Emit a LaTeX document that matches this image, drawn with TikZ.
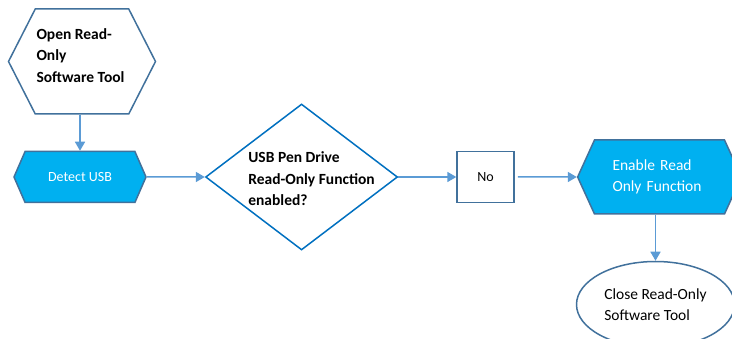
\documentclass[tikz,border=0pt]{standalone}
\usepackage{fontspec}
\setmainfont{Carlito}
\usetikzlibrary{shapes,arrows.meta,positioning}
\definecolor{cyanfill}{HTML}{00B0F0}
\definecolor{edgeblue}{HTML}{41719C}
\definecolor{decisionblue}{HTML}{0070C0}
\definecolor{arrowblue}{HTML}{5B9BD5}

\begin{document}
\begin{tikzpicture}[font=\fontsize{14}{21}\selectfont]
    \tikzstyle{process} = [signal, signal to=west and east, draw=edgeblue, line width=1.5pt, inner sep=2pt]
    \tikzstyle{decision} = [diamond, draw=decisionblue, line width=1.5pt, fill=white, inner xsep=-8pt, inner ysep=-14pt]
    \tikzstyle{box} = [rectangle, draw=edgeblue, line width=1.5pt, fill=white]
    \tikzstyle{flow} = [draw=arrowblue, line width=1.5pt, -{Triangle[length=9pt,width=10pt]}]
    \tikzstyle{bigtext} = [font=\fontsize{15.5}{21}\selectfont]
    \tikzstyle{boldtext} = [font=\fontsize{15.5}{21.5}\selectfont\bfseries]

    \useasboundingbox (0,0) rectangle (732pt,-339pt);

    \node[process, fill=cyanfill, text=white, minimum width=132pt, minimum height=51pt,
          signal pointer angle=133] (detect) at (80pt,-177pt) {Detect USB};

    \node[process, fill=white, minimum width=147pt, minimum height=105pt, signal pointer angle=126,
          inner sep=0pt, above=36pt of detect, xshift=2pt,
          label={[boldtext, align=left, xshift=-1.5pt, yshift=6pt]center:Open Read-\\Only\\Software Tool}] (open) {};

    \node[decision, minimum width=192pt, minimum height=146pt, right=58pt of detect,
          label={[boldtext, align=left, xshift=10pt, yshift=-2pt]center:USB Pen Drive\\Read-Only Function\\enabled?}] (check) {};

    \node[box, minimum width=57pt, minimum height=51pt, right=58pt of check] (no) {No};

    \node[process, fill=cyanfill, text=white, minimum height=74pt, bigtext,
          signal pointer angle=131, text width=94pt, inner xsep=18pt, align=left,
          right=62pt of no] (enable) {Enable Read\\Only Function};

    \node[ellipse, draw=edgeblue, line width=1.5pt, fill=white, minimum width=158pt, minimum height=86pt,
          bigtext, align=left, below=46pt of enable, xshift=-4pt] (close) {Close Read-Only\\Software Tool};

    \draw[flow] (open.south -| detect.north) -- (detect.north);
    \draw[flow] (detect) -- (check);
    \draw[flow] (check) -- (no);
    \draw[flow, shorten <=3pt] (no) -- (enable);
    \draw[flow] (enable.south -| close.north) -- (close.north);
\end{tikzpicture}
\end{document}
